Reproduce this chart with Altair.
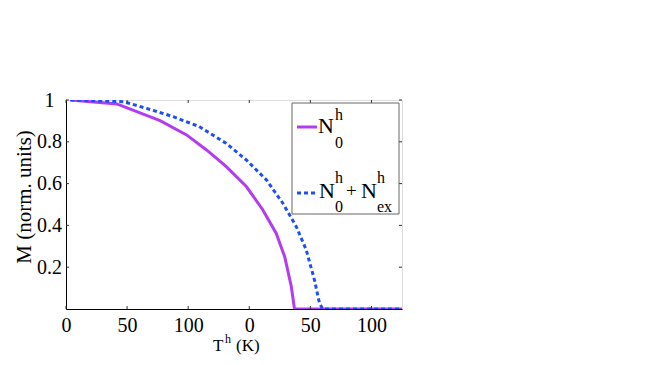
import altair as alt
import pandas as pd

# Solid curve N0^h
t_n0 = [3.5, 41.6, 77, 98.7, 115, 131, 147.6, 161, 172, 179, 184.4, 187, 275]
m_n0 = [1.0, 0.981, 0.901, 0.833, 0.761, 0.682, 0.586, 0.475, 0.363, 0.25, 0.108, 0.0, 0.0]
# Dotted curve N0^h + Nex^h
t_tot = [3.5, 47, 66, 87.8, 109, 131, 147.6, 164, 177.5, 188.4, 196.6, 203.3, 207.4, 210, 275]
m_tot = [1.0, 0.992, 0.96, 0.92, 0.873, 0.793, 0.713, 0.618, 0.506, 0.395, 0.283, 0.14, 0.029, 0.0, 0.0]

x_ticks = [0, 50, 100, 150, 200, 250]
y_ticks = [0.2, 0.4, 0.6, 0.8, 1.0]

FONT = "Liberation Serif"
MAG = "#B43CF0"
BLUE = "#1E4EFA"
W, H = 336, 209

df1 = pd.DataFrame({"T": t_n0, "M": m_n0})
df2 = pd.DataFrame({"T": t_tot, "M": m_tot})
dfx = pd.DataFrame({"T": x_ticks})
dfy = pd.DataFrame({"M": y_ticks})

xs = alt.Scale(domain=[0, 275], nice=False, zero=False)
ys = alt.Scale(domain=[0, 1], nice=False)

xaxis = alt.Axis(values=x_ticks, labelExpr="datum.value % 150", tickSize=0,
                 labelPadding=6, labelFontSize=20, labelFont=FONT, labelColor="black",
                 labelFlush=False, grid=False, domainColor="black", title=None)
yaxis = alt.Axis(values=y_ticks, format=".1~f", tickSize=0, labelPadding=17,
                 labelAlign="center", labelFontSize=20, labelFont=FONT, labelColor="black",
                 labelFlush=False, grid=False, domainColor="black", title=None)

solid = alt.Chart(df1).mark_line(color=MAG, strokeWidth=3, clip=True).encode(
    x=alt.X("T:Q", scale=xs, axis=xaxis),
    y=alt.Y("M:Q", scale=ys, axis=yaxis),
)
dotted = alt.Chart(df2).mark_line(color=BLUE, strokeWidth=3, strokeDash=[4, 3], clip=True).encode(
    x=alt.X("T:Q", scale=xs), y=alt.Y("M:Q", scale=ys)
)

tick_col = "#333"
xb = alt.Chart(dfx).mark_rule(color=tick_col, strokeWidth=1).encode(
    x=alt.X("T:Q", scale=xs), y=alt.value(H), y2=alt.value(H - 3))
xt = alt.Chart(dfx).mark_rule(color=tick_col, strokeWidth=1).encode(
    x=alt.X("T:Q", scale=xs), y=alt.value(0), y2=alt.value(3))
yl = alt.Chart(dfy).mark_rule(color=tick_col, strokeWidth=1).encode(
    y=alt.Y("M:Q", scale=ys), x=alt.value(0), x2=alt.value(3))
yr = alt.Chart(dfy).mark_rule(color=tick_col, strokeWidth=1).encode(
    y=alt.Y("M:Q", scale=ys), x=alt.value(W), x2=alt.value(W - 3))

# Legend box
one = dfx.head(1)
leg_box = alt.Chart(one).mark_rect(fill="white", stroke="#666", strokeWidth=1).encode(
    x=alt.value(226), x2=alt.value(333), y=alt.value(3), y2=alt.value(114))
leg_l1 = alt.Chart(one).mark_rule(color=MAG, strokeWidth=3).encode(
    x=alt.value(231), x2=alt.value(251), y=alt.value(27))
leg_l2 = alt.Chart(one).mark_rule(color=BLUE, strokeWidth=3, strokeDash=[4, 3]).encode(
    x=alt.value(231), x2=alt.value(251), y=alt.value(93))

def txt(s, x, y, size, align="left", angle=0, baseline="alphabetic"):
    return alt.Chart(one).mark_text(
        text=s, font=FONT, fontSize=size, color="black", align=align,
        baseline=baseline, angle=angle
    ).encode(x=alt.value(x), y=alt.value(y))

texts = [
    txt("N", 252, 33, 22), txt("h", 269, 20, 16), txt("0", 269, 48, 16),
    txt("N", 253, 98, 22), txt("h", 269, 83, 16), txt("0", 269, 112, 16),
    txt("+", 280, 97, 19),
    txt("N", 295, 98, 22), txt("h", 311, 83, 16), txt("ex", 311, 112, 16),
    # x title
    txt("T", 147, 251, 17), txt("h", 159, 243, 12), txt("(K)", 170, 251, 17),
    # y title
    txt("M (norm. units)", -41, 97, 21, align="center", angle=270, baseline="middle"),
]

chart = alt.layer(solid, dotted, xb, xt, yl, yr, leg_box, leg_l1, leg_l2, *texts).properties(
    width=W, height=H,
    autosize=alt.AutoSizeParams(type="none"),
    padding={"left": 58, "top": 92, "right": 250, "bottom": 50},
).configure_view(stroke="#555", strokeWidth=1).configure_axis(
    labelFont=FONT, labelFontSize=20
).configure(background="white", font=FONT)

chart.save("out.html", embed_options={"renderer": "svg", "actions": False})
